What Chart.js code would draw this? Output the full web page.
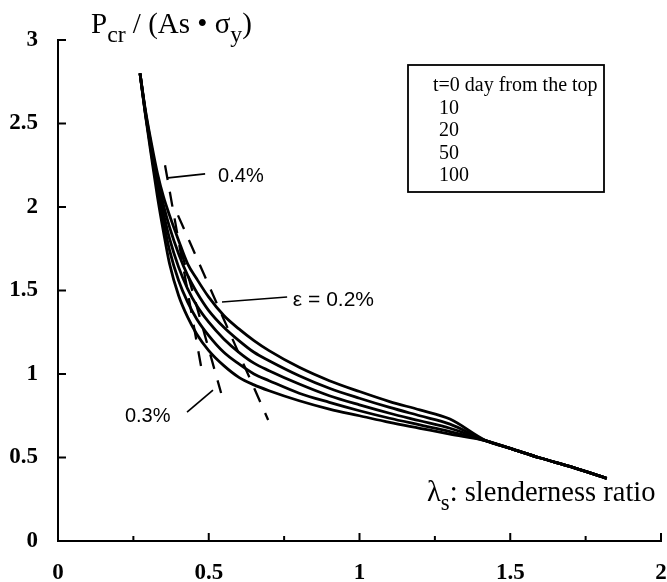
<!DOCTYPE html>
<html><head><meta charset="utf-8">
<style>html,body{margin:0;padding:0;background:#fff;}#wrap{width:667px;height:582px;}</style>
<script src="https://cdn.jsdelivr.net/npm/chart.js@4.4.1/dist/chart.umd.min.js"></script>
</head><body>
<div id="wrap"><canvas id="c" width="667" height="582"></canvas></div>
<script>
// ---- data ----
const xTickLabels = ['0','0.5','1','1.5','2'];
const yTickLabels = ['0','0.5','1','1.5','2','2.5','3'];
const xMinorTicks = [0.25, 0.75, 1.25, 1.75];
const seriesLabels = ['t=0 day from the top','10','20','50','100'];
const curveX = [0.272,0.29,0.31,0.33,0.35,0.37,0.40,0.43,0.46,0.50,0.55,0.60,0.65,0.70,0.80,0.90,1.00,1.10,1.20,1.30,1.42,1.50,1.60,1.70,1.82];
const t0   = [2.80,2.58,2.38,2.20,2.06,1.95,1.80,1.66,1.57,1.46,1.35,1.27,1.20,1.14,1.04,0.96,0.895,0.835,0.785,0.73,0.60,0.555,0.497,0.445,0.375];
const t10  = [2.80,2.57,2.36,2.17,2.01,1.88,1.72,1.59,1.49,1.38,1.28,1.20,1.13,1.08,0.99,0.915,0.855,0.80,0.75,0.70,0.60,0.555,0.497,0.445,0.375];
const t20  = [2.80,2.56,2.34,2.13,1.96,1.81,1.64,1.51,1.41,1.31,1.21,1.13,1.065,1.02,0.94,0.87,0.815,0.765,0.72,0.675,0.60,0.555,0.497,0.445,0.375];
const t50  = [2.80,2.56,2.32,2.10,1.91,1.74,1.56,1.43,1.33,1.23,1.13,1.06,1.00,0.96,0.885,0.83,0.78,0.735,0.695,0.655,0.60,0.555,0.497,0.445,0.375];
const t100 = [2.80,2.55,2.30,2.06,1.85,1.66,1.47,1.34,1.24,1.14,1.05,0.98,0.935,0.90,0.84,0.79,0.75,0.71,0.675,0.64,0.60,0.555,0.497,0.445,0.375];
// strain contour (dashed) lines
const strain04X = [0.355, 0.478], strain04Y = [2.25, 1.01];
const strain03X = [0.408, 0.541], strain03Y = [1.74, 0.886];
const strain02X = [0.398, 0.697], strain02Y = [1.95, 0.725];
// leader lines for the strain labels
const lead04X = [0.365, 0.488], lead04Y = [2.174, 2.198];
const lead02X = [0.544, 0.760], lead02Y = [1.431, 1.461];
const lead03X = [0.428, 0.514], lead03Y = [0.772, 0.904];
const strainLabels = ['0.4%', '\u03b5 = 0.2%', '0.3%'];

// ---- build ----
const pts = (xs, ys) => xs.map((v, i) => ({x: v, y: ys[i]}));
const curves = [t0, t10, t20, t50, t100];
const datasets = curves.map((ys, i) => ({
  label: seriesLabels[i], data: pts(curveX, ys), showLine: true, borderColor: '#000',
  borderWidth: 2.8, pointRadius: 0, cubicInterpolationMode: 'monotone', fill: false
}));
[[strain04X, strain04Y], [strain03X, strain03Y], [strain02X, strain02Y]].forEach(([xs, ys]) =>
  datasets.push({label: '', data: pts(xs, ys), showLine: true, borderColor: '#000', borderWidth: 2.3,
    borderDash: [15, 12], pointRadius: 0}));
[[lead04X, lead04Y], [lead02X, lead02Y], [lead03X, lead03Y]].forEach(([xs, ys]) =>
  datasets.push({label: '', data: pts(xs, ys), showLine: true, borderColor: '#000', borderWidth: 1.7, pointRadius: 0}));

const SERIF = '"Liberation Serif", "Times New Roman", serif';
const SANS = '"Liberation Sans", Arial, sans-serif';

function drawRich(ctx, parts, x, y, size, family, subScale) {
  let cx = x;
  parts.forEach(p => {
    const s = p.sub ? size * subScale : size;
    ctx.font = s + 'px ' + family;
    ctx.fillText(p.t, cx, y + (p.sub ? size * 0.3 : 0));
    cx += ctx.measureText(p.t).width;
  });
}

const overlay = {
  id: 'overlay',
  afterDraw(chart) {
    const {ctx, chartArea: a, scales: {x, y}} = chart;
    ctx.save();
    ctx.strokeStyle = '#000'; ctx.fillStyle = '#000'; ctx.lineWidth = 2;
    // inward ticks
    yTickLabels.map(Number).forEach(v => {
      const py = y.getPixelForValue(v);
      ctx.beginPath(); ctx.moveTo(a.left, py); ctx.lineTo(a.left + 8, py); ctx.stroke();
    });
    xTickLabels.map(Number).filter(v => v > 0).forEach(v => {
      const px = x.getPixelForValue(v);
      ctx.beginPath(); ctx.moveTo(px, a.bottom); ctx.lineTo(px, a.bottom - 8); ctx.stroke();
    });
    xMinorTicks.forEach(v => {
      const px = x.getPixelForValue(v);
      ctx.beginPath(); ctx.moveTo(px, a.bottom); ctx.lineTo(px, a.bottom - 5); ctx.stroke();
    });
    ctx.textBaseline = 'alphabetic'; ctx.textAlign = 'left';
    // y title
    drawRich(ctx, [{t: 'P'}, {t: 'cr', sub: true}, {t: ' / (As \u2022 \u03c3'}, {t: 'y', sub: true}, {t: ')'}], 91, 33, 29, SERIF, 0.82);
    // x title
    drawRich(ctx, [{t: '\u03bb'}, {t: 's', sub: true}, {t: ': slenderness ratio'}], 427, 501, 28.5, SERIF, 0.8);
    // strain labels
    ctx.font = '20px ' + SANS;
    ctx.fillText(strainLabels[0], x.getPixelForValue(0.531), y.getPixelForValue(2.15));
    ctx.font = '21px ' + SANS;
    ctx.fillText(strainLabels[1], x.getPixelForValue(0.779), y.getPixelForValue(1.407));
    ctx.font = '20px ' + SANS;
    ctx.fillText(strainLabels[2], x.getPixelForValue(0.222), y.getPixelForValue(0.713));
    // legend box
    ctx.lineWidth = 1.8;
    ctx.strokeRect(408, 65, 196, 127);
    ctx.font = '20px ' + SERIF;
    seriesLabels.forEach((s, i) => {
      ctx.fillText(s, i === 0 ? 433 : 439, 91 + i * 22.5);
    });
    ctx.restore();
  }
};

new Chart(document.getElementById('c'), {
  type: 'scatter',
  data: {datasets},
  options: {
    responsive: false, animation: false, devicePixelRatio: 1,
    layout: {padding: {top: 40, right: 6, left: 0, bottom: 0}},
    plugins: {legend: {display: false}, tooltip: {enabled: false}},
    scales: {
      x: {
        type: 'linear', min: 0, max: 2,
        afterFit: s => { s.height = 41; s.paddingLeft = 0; s.paddingRight = 0; },
        grid: {display: false, drawTicks: false},
        border: {display: true, color: '#000', width: 2},
        ticks: {stepSize: 0.5, color: '#000', padding: 18, maxRotation: 0,
          font: {family: SERIF, size: 23, weight: 'bold'},
          callback: v => { const l = xTickLabels.find(t => Number(t) === v); return l === undefined ? '' : l; }}
      },
      y: {
        type: 'linear', min: 0, max: 3,
        afterFit: s => { s.width = 58; s.paddingTop = 0; s.paddingBottom = 0; },
        grid: {display: false, drawTicks: false},
        border: {display: true, color: '#000', width: 2},
        ticks: {stepSize: 0.5, color: '#000', padding: 20,
          font: {family: SERIF, size: 23, weight: 'bold'},
          callback: v => { const l = yTickLabels.find(t => Number(t) === v); return l === undefined ? '' : l; }}
      }
    }
  },
  plugins: [overlay]
});
</script>
</body></html>
